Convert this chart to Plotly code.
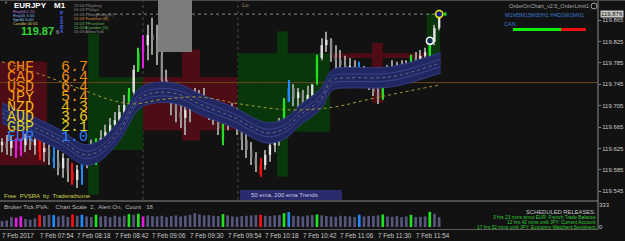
import plotly.graph_objects as go

# ---------------- data ----------------
# 3-minute bars, time = minutes after 07:30 on 7 Feb 2017
bar_min = list(range(0, 282, 3))
highs = [119.644,119.650,119.648,119.644,119.644,119.652,119.656,119.650,119.659,119.650,
         119.644,119.631,119.622,119.616,119.607,119.598,119.594,119.607,119.631,119.641,
         119.644,119.659,119.669,119.682,119.693,119.706,119.725,119.738,119.781,119.813,
         119.837,119.856,119.869,119.856,119.809,119.772,119.744,119.725,119.719,119.716,
         119.725,119.738,119.734,119.738,119.719,119.712,119.701,119.674,119.704,119.710,
         119.701,119.674,119.656,119.637,119.618,119.607,119.622,119.641,119.663,119.682,
         119.719,119.753,119.745,119.738,119.734,119.742,119.746,119.800,119.831,119.843,
         119.831,119.818,119.809,119.798,119.794,119.790,119.787,119.779,119.772,119.760,
         119.745,119.757,119.781,119.790,119.787,119.790,119.790,119.800,119.805,119.809,
         119.813,119.828,119.856,119.880]
lows = [119.618,119.613,119.611,119.607,119.611,119.618,119.622,119.613,119.603,119.600,
        119.594,119.588,119.575,119.570,119.562,119.557,119.551,119.557,119.588,119.600,
        119.594,119.613,119.622,119.637,119.650,119.659,119.678,119.689,119.725,119.768,
        119.775,119.790,119.800,119.781,119.734,119.716,119.687,119.674,119.663,119.650,
        119.674,119.693,119.701,119.693,119.678,119.669,119.650,119.631,119.659,119.669,
        119.650,119.622,119.607,119.594,119.581,119.572,119.585,119.600,119.618,119.630,
        119.663,119.712,119.704,119.697,119.693,119.701,119.687,119.744,119.790,119.805,
        119.787,119.775,119.768,119.760,119.753,119.749,119.760,119.742,119.734,119.723,
        119.708,119.716,119.744,119.749,119.749,119.757,119.757,119.768,119.779,119.779,
        119.787,119.794,119.818,119.846]
opens = [119.631,119.637,119.626,119.641,119.622,119.631,119.644,119.631,119.641,119.618,
         119.626,119.607,119.600,119.588,119.607,119.581,119.566,119.585,119.603,119.622,
         119.603,119.637,119.644,119.656,119.669,119.678,119.693,119.697,119.730,119.772,
         119.805,119.818,119.837,119.828,119.800,119.753,119.730,119.706,119.693,119.682,
         119.697,119.716,119.725,119.712,119.719,119.697,119.687,119.641,119.671,119.693,
         119.697,119.663,119.641,119.622,119.607,119.594,119.594,119.613,119.631,119.650,
         119.669,119.712,119.738,119.719,119.730,119.706,119.725,119.757,119.794,119.818,
         119.828,119.800,119.790,119.781,119.772,119.779,119.762,119.775,119.757,119.744,
         119.730,119.719,119.749,119.768,119.779,119.762,119.775,119.772,119.794,119.787,
         119.798,119.798,119.824,119.850]
closes = [119.637,119.626,119.641,119.622,119.631,119.644,119.631,119.641,119.618,119.626,
          119.607,119.600,119.588,119.607,119.581,119.566,119.585,119.603,119.622,119.626,
          119.637,119.644,119.656,119.669,119.678,119.693,119.706,119.730,119.772,119.805,
          119.818,119.837,119.828,119.800,119.753,119.730,119.706,119.693,119.682,119.697,
          119.716,119.725,119.712,119.719,119.697,119.687,119.663,119.671,119.693,119.697,
          119.663,119.641,119.622,119.607,119.594,119.577,119.613,119.631,119.650,119.674,
          119.712,119.738,119.719,119.730,119.706,119.725,119.744,119.794,119.818,119.828,
          119.800,119.790,119.781,119.772,119.779,119.762,119.775,119.757,119.744,119.730,
          119.719,119.749,119.768,119.779,119.762,119.775,119.772,119.794,119.787,119.798,
          119.805,119.824,119.850,119.876]
# PVSRA class per bar: n normal, g green, r red, b blue, m magenta
pvsra = list("nnnmmnnnrn" "nbnnnrnbnn" "gnnnnnngng" "mnnnnnnnnn" "nnnnnnngnn"
             "nnnnnrnnnn" "gbnnnnngnn" "nnnnnnbnnn" "ngnnnnngnn" "ngnn")
volumes = [90,100,150,140,160,120,110,130,180,170,
           185,180,160,175,150,190,170,185,160,150,
           185,160,165,150,170,155,170,195,185,200,
           160,175,165,160,170,150,165,175,160,170,
           185,210,190,175,180,170,165,195,175,160,
           155,165,170,175,180,185,170,165,175,180,
           210,225,170,165,160,175,180,190,175,165,
           160,155,170,165,160,150,185,160,165,170,
           175,190,160,155,165,150,160,185,150,155,
           160,230,200,150]

# 50 ema ribbon (centre) and 200 ema
ema50_min = [0, 20, 37, 53, 63, 75, 88, 101, 114, 126, 147, 169, 181, 190, 203, 211, 222, 241, 254, 280]
ema50 = [119.691, 119.665, 119.641, 119.613, 119.622, 119.659, 119.719, 119.730, 119.725, 119.708,
         119.684, 119.654, 119.663, 119.687, 119.716, 119.753, 119.757, 119.757, 119.762, 119.785]
ema200_min = [0, 26, 52, 69, 84, 101, 126, 152, 184, 211, 233, 254, 280]
ema200 = [119.787, 119.762, 119.734, 119.716, 119.708, 119.716, 119.721, 119.708, 119.697,
          119.702, 119.716, 119.729, 119.744]

# supply / demand zones: start min, end min, top price, bottom price, kind
zone_x0 = [-1.3, 54.9, 54.9, 90.0, 114.9, 150.6, 175.5, 210.6, 236.1, 271.2]
zone_x1 = [28.7, 90.0, 61.9, 150.0, 126.4, 209.3, 182.5, 273.1, 243.1, 279.5]
zone_hi = [119.787, 119.758, 119.840, 119.758, 119.810, 119.803, 119.844, 119.803, 119.822, 119.878]
zone_lo = [119.594, 119.622, 119.538, 119.659, 119.640, 119.656, 119.572, 119.794, 119.710, 119.796]
zone_kind = ["s", "d", "d", "s", "s", "d", "d", "s", "s", "d"]

price_ticks = [119.865, 119.825, 119.785, 119.745, 119.705, 119.665, 119.625, 119.585, 119.545]
time_tick_min = [0, 24, 48, 72, 96, 120, 144, 168, 192, 216, 240, 264]
time_labels = ["7 Feb 2017", "7 Feb 07:54", "7 Feb 08:18", "7 Feb 08:42", "7 Feb 09:06",
               "7 Feb 09:30", "7 Feb 09:54", "7 Feb 10:18", "7 Feb 10:42", "7 Feb 11:06",
               "7 Feb 11:30", "7 Feb 11:54"]
currencies = ["CHF", "CAD", "USD", "JPY", "NZD", "AUD", "GBP", "EUR"]
strength = ["6.7", "6.4", "6.4", "5.4", "4.3", "3.6", "2.1", "1.0"]
cur_colors = ["#f08a10", "#f08a10", "#f09010", "#f0a010", "#f0b818", "#e8c818", "#d8d020", "#2a80ff"]
bid = 119.876
support_line = 119.748

# ---------------- helpers ----------------
W, H = 625, 241
PLOT_R = 598
XMIN, XMAX = -1.276, 380.35
YTOP = 119.9024
YBOT = YTOP - 200 / 535.0


def px(x):
    return x / W


def py(y):
    return 1 - y / H


BG = "#121212"
fig = go.Figure()

# zones
for x0, x1, hi, lo, k in zip(zone_x0, zone_x1, zone_hi, zone_lo, zone_kind):
    fig.add_shape(type="rect", xref="x", yref="y", x0=x0, x1=x1, y0=lo, y1=hi,
                  fillcolor="#4e0c16" if k == "s" else "#0a360c", line_width=0, layer="below")

# horizontal level & separators
fig.add_shape(type="line", xref="x", yref="y", x0=XMIN, x1=XMAX, y0=support_line, y1=support_line,
              line=dict(color="#6a4518", width=1), layer="below")
for vx in [90.0, 150.6]:
    fig.add_shape(type="line", xref="x", yref="paper", x0=vx, x1=vx, y0=py(200), y1=py(0),
                  line=dict(color="#4a4a40", width=1, dash="dot"), layer="below")

# ema ribbon
up_o = [v + 0.019 for v in ema50]
lo_o = [v - 0.019 for v in ema50]
up_i = [v + 0.007 for v in ema50]
lo_i = [v - 0.007 for v in ema50]
fig.add_trace(go.Scatter(x=ema50_min, y=up_o, mode="lines", line=dict(color="#323c88", width=1, shape="spline"),
                         hoverinfo="skip"))
fig.add_trace(go.Scatter(x=ema50_min, y=lo_o, mode="lines", line=dict(color="#323c88", width=1, shape="spline"),
                         fill="tonexty", fillcolor="#212760", hoverinfo="skip"))
for arr in (up_i, lo_i):
    fig.add_trace(go.Scatter(x=ema50_min, y=arr, mode="lines", line=dict(color="#404c98", width=0.8, shape="spline"),
                             hoverinfo="skip"))
fig.add_trace(go.Scatter(x=ema50_min, y=ema50, mode="lines",
                         line=dict(color="#7c7c92", width=0.8, dash="dot", shape="spline"), hoverinfo="skip"))

# 200 ema
fig.add_trace(go.Scatter(x=ema200_min, y=ema200, mode="lines",
                         line=dict(color="#a89a34", width=1, dash="dot", shape="spline"), hoverinfo="skip"))

# candles
pv_col = {"g": "#22e022", "r": "#ff1010", "b": "#1e8cff", "m": "#e020e0"}
wick_c, body_c = [], []
for o, c, k in zip(opens, closes, pvsra):
    if k in pv_col:
        wick_c.append(pv_col[k])
        body_c.append(pv_col[k])
    else:
        wick_c.append("#9a9a9a")
        body_c.append("#e0e0e0" if c >= o else "#8c8c8c")
fig.add_trace(go.Bar(x=bar_min, y=[h - l for h, l in zip(highs, lows)], base=lows, width=0.7,
                     marker=dict(color=wick_c, line_width=0), hoverinfo="skip"))
fig.add_trace(go.Bar(x=bar_min, y=[max(abs(c - o), 0.0012) for o, c in zip(opens, closes)],
                     base=[min(o, c) for o, c in zip(opens, closes)], width=1.5,
                     marker=dict(color=body_c, line_width=0), hoverinfo="skip"))

# bid line and markers
fig.add_trace(go.Scatter(x=[60, bar_min[-1]], y=[bid, bid], mode="lines",
                         line=dict(color="#8a8a8a", width=1, dash="dot"), hoverinfo="skip"))
fig.add_trace(go.Scatter(x=[273.1], y=[119.826], mode="markers",
                         marker=dict(size=7, color="#0a3050", line=dict(color="#ffffff", width=1.5)),
                         hoverinfo="skip"))
fig.add_trace(go.Scatter(x=[bar_min[-1]], y=[bid], mode="markers",
                         marker=dict(size=7, color="#101890", line=dict(color="#f0f000", width=1.5)),
                         hoverinfo="skip"))
fig.add_trace(go.Scatter(x=[282.7], y=[bid], mode="markers",
                         marker=dict(size=3, symbol="square", color="#20e020"), hoverinfo="skip"))

# volume
vol_c = [pv_col.get(k, "#56567c") for k in pvsra]
fig.add_trace(go.Bar(x=bar_min, y=volumes, width=1.7, xaxis="x2", yaxis="y2",
                     marker=dict(color=vol_c, line_width=0), hoverinfo="skip"))

# ---------------- layout ----------------
small = dict(family="Liberation Sans", size=6, color="#c8c8c8")
fig.update_layout(
    width=W, height=H, margin=dict(l=0, r=0, t=0, b=0),
    paper_bgcolor=BG, plot_bgcolor=BG, showlegend=False, barmode="overlay",
    xaxis=dict(domain=[0, PLOT_R / W], range=[XMIN, XMAX], visible=False, fixedrange=True),
    yaxis=dict(domain=[py(200), 1], range=[YBOT, YTOP], side="right", showgrid=False, zeroline=False,
               tickvals=price_ticks, ticktext=[f"{v:.3f}" for v in price_ticks], tickfont=small,
               ticks="outside", ticklen=2, tickcolor="#909090", showline=False, fixedrange=True),
    xaxis2=dict(domain=[0, PLOT_R / W], range=[XMIN, XMAX], visible=False, anchor="y2", fixedrange=True),
    yaxis2=dict(domain=[py(229), py(202)], range=[-30, 378], side="right", showgrid=False, zeroline=False,
                tickvals=[0, 333], ticktext=["0", "333"], tickfont=small, ticks="", anchor="x2",
                fixedrange=True),
)

# frame lines
frame = dict(color="#8a8a8a", width=1)
fig.add_shape(type="line", xref="paper", yref="paper", x0=px(PLOT_R), x1=px(PLOT_R), y0=py(229.5), y1=1,
              line=frame)
fig.add_shape(type="line", xref="paper", yref="paper", x0=0, x1=px(PLOT_R), y0=py(201), y1=py(201), line=frame)
fig.add_shape(type="line", xref="paper", yref="paper", x0=0, x1=px(PLOT_R), y0=py(229.5), y1=py(229.5),
              line=dict(color="#5a5a5a", width=1))
fig.add_shape(type="line", xref="paper", yref="paper", x0=0, x1=1, y0=py(0.5), y1=py(0.5),
              line=dict(color="#4a4a4a", width=1))

# gray panel top-left
fig.add_shape(type="rect", xref="paper", yref="paper", x0=px(158), x1=px(192), y0=py(52), y1=1,
              fillcolor="#7c7c7c", line_width=0)

# current price label
fig.add_annotation(xref="paper", yref="y", x=px(600), y=bid, text="119.876", showarrow=False,
                   xanchor="left", yanchor="middle", bgcolor="#c8c8c8",
                   font=dict(family="Liberation Sans", size=6, color="#101010"), borderpad=0)


def txt(x, y, s, color, size=6, family="Liberation Sans", anchor="left", bold=False):
    if bold:
        s = "<b>" + s + "</b>"
    fig.add_annotation(xref="paper", yref="paper", x=px(x), y=py(y), text=s, showarrow=False,
                       xanchor=anchor, yanchor="middle", font=dict(family=family, size=size, color=color),
                       borderpad=0)


# time labels
for m, lab in zip(time_tick_min, time_labels):
    fig.add_annotation(xref="x", yref="paper", x=m, y=py(235), text=lab, showarrow=False,
                       xanchor="left", yanchor="middle", xshift=-1, borderpad=0,
                       font=dict(family="Liberation Sans", size=6.3, color="#c8c8c8"))

# currency strength (name and value on one line per currency)
for i, (c, v, col) in enumerate(zip(currencies, strength, cur_colors)):
    y = 67 + i * 10
    txt(6, y, c + "   " + v, col, size=15, family="Liberation Mono")

# header
txt(3, 2.5, "▼", "#909090", size=4)
txt(13, 5.5, "EURJPY", "#ffffff", size=8, bold=True)
txt(53, 5.5, "M1", "#ffffff", size=8, bold=True)
txt(12, 11.7, "Rng5d 0.20", "#b07ad8", size=4.2)
txt(12, 15.6, "Rng45 5.66", "#7aa8e0", size=4.2)
txt(12, 19.5, "Sprd0 0.00", "#88c0f0", size=4.2)
txt(12, 23.4, "Candle 00:51", "#d8c860", size=4.2)
txt(19.5, 31, "119.87", "#33d633", size=11, bold=True)
txt(54.5, 32, "6", "#b0b0b0", size=5.5)
for j, ch in enumerate("PVSRA"):
    txt(61.5, 13.5 + j * 4.6, ch, "#4a62ff", size=4.6, anchor="center", bold=True)
sessions = [("23:03 PSydney", "#8a8a8a"), ("00:03 PTokyo", "#8a8a8a"), ("01:03 PHongKong (L)", "#8a8a8a"),
            ("01:03 Frankfurt (B)", "#d89040"), ("10:03 PFrankfurt", "#60b060"), ("11:03 ALondon (G)", "#60c060"),
            ("05:03 ANewYork", "#8a8a8a")]
for i, (s, col) in enumerate(sessions):
    txt(73, 5 + i * 4.5, s, col, size=4.1)

# top right
txt(590, 6, "OrderOnChart_v2.5_OrderLimit1", "#a8a8a8", size=5.5, anchor="right")
fig.add_shape(type="circle", xref="paper", yref="paper", x0=px(591), x1=px(597), y0=py(9), y1=py(3),
              line=dict(color="#a0a0a0", width=1))
txt(585, 15, "M1M5M15M30H1 H4D1W1MN1", "#3a7ad0", size=5.5, anchor="right")
txt(503, 24, "CAN", "#3a7ad0", size=5.5)
fig.add_shape(type="rect", xref="paper", yref="paper", x0=px(513), x1=px(561), y0=py(31), y1=py(28),
              fillcolor="#10ee10", line_width=0)
fig.add_shape(type="rect", xref="paper", yref="paper", x0=px(561), x1=px(586), y0=py(31), y1=py(28),
              fillcolor="#ee1010", line_width=0)

txt(241, 5, "Lo", "#a08858", size=6)

# bottom labels
txt(3, 195.5, "Free  PVSRA  by  Traderathome", "#d0d050", size=6)
fig.add_shape(type="rect", xref="paper", yref="paper", x0=px(240), x1=px(342), y0=py(200), y1=py(190),
              fillcolor="#2a2a6c", line_width=0)
txt(250, 195, "50 ema, 200 ema Trends", "#c8c8e8", size=6)
txt(3, 207, "Broker Tick PVA:    Chart Scale  2,  Alert On,  Count   18", "#b8b8b8", size=6)
txt(597, 211.5, "SCHEDULED RELEASES:", "#c8c8c8", size=5.8, anchor="right")
txt(597, 217.8, "3 hrs 23 mins since EUR: French Trade Balance", "#30d030", size=4.8, anchor="right")
txt(597, 222.6, "12 hrs 42 mins until JPY: Current Account", "#30d030", size=4.8, anchor="right")
txt(597, 227.4, "17 hrs 52 mins until JPY: Economy Watchers Sentiment", "#30d030", size=4.8, anchor="right")

fig.write_html("out.html")
